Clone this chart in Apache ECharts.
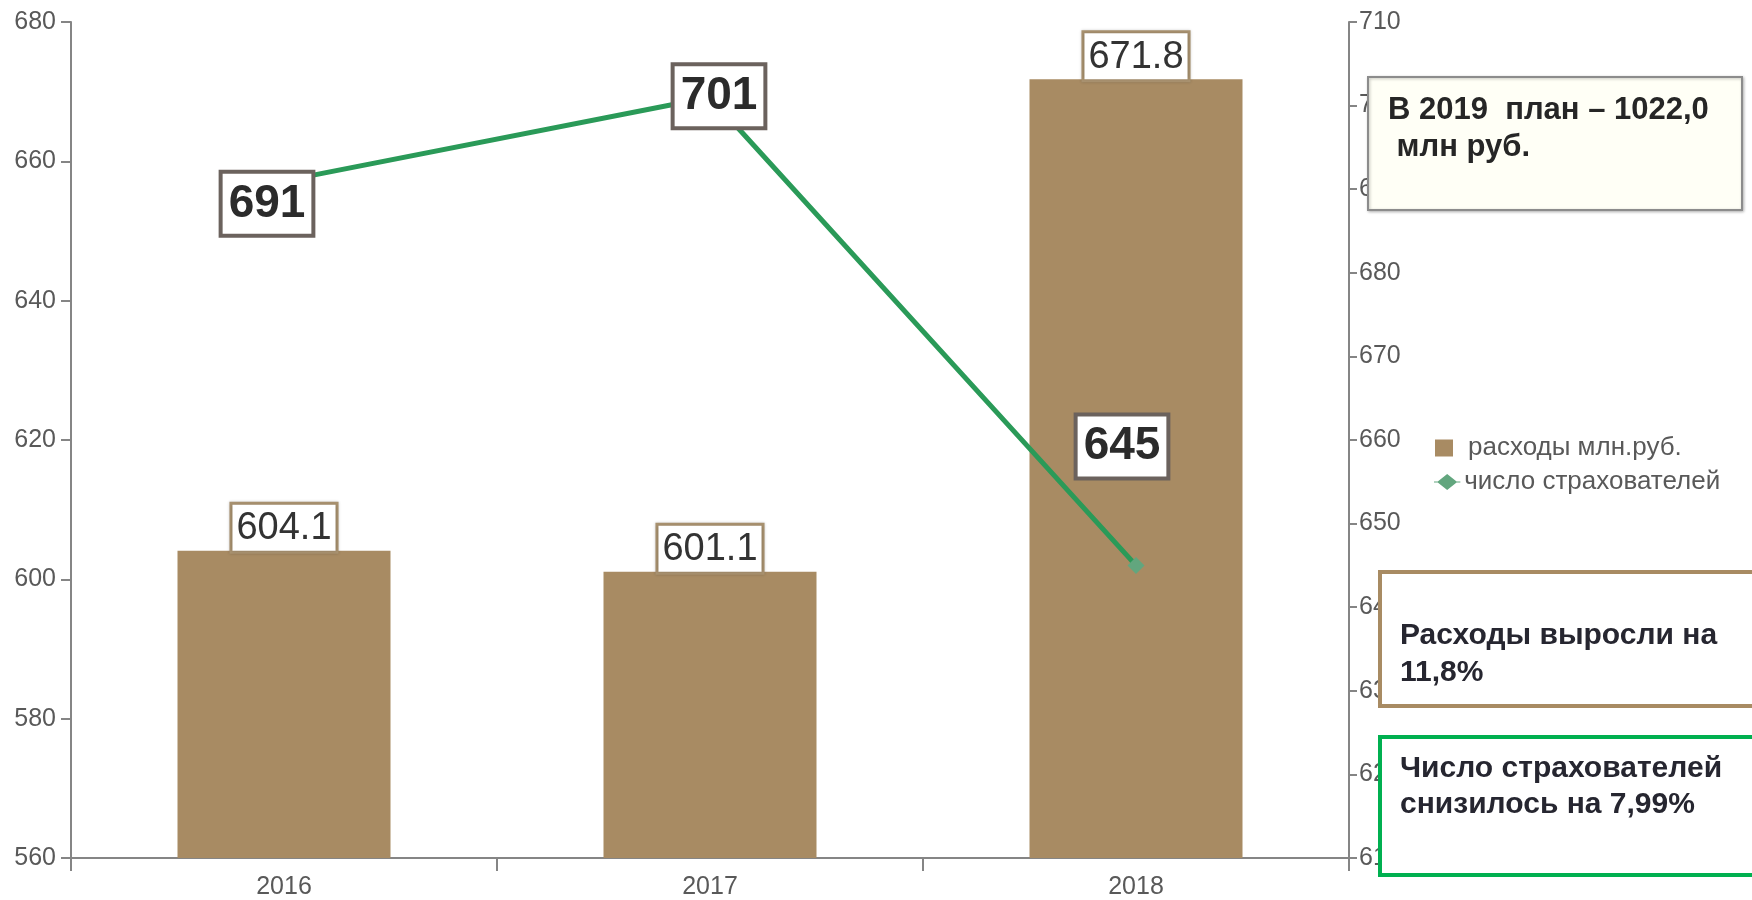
<!DOCTYPE html>
<html>
<head>
<meta charset="utf-8">
<script src="https://cdn.jsdelivr.net/npm/echarts@6/dist/echarts.min.js"></script>
<style>
html,body{margin:0;padding:0;background:#fff;}
#chart{width:1752px;height:900px;}
</style>
</head>
<body>
<div id="chart"></div>
<script>
const categories = ['2016', '2017', '2018'];
const expenses = [604.1, 601.1, 671.8];
const insurers = [691, 701, 645];
const expensesName = 'расходы млн.руб.';
const insurersName = 'число страхователей';
const leftAxis = { min: 560, max: 680, interval: 20 };
const rightAxis = { min: 610, max: 710, interval: 10 };
const insurerLabelOffsets = [[-17, 23], [9, -1], [-14, -119]];
const noteText1 = ['В 2019  план – 1022,0', ' млн руб.'];
const noteText2 = ['Расходы выросли на', '11,8%'];
const noteText3 = ['Число страхователей', 'снизилось на 7,99%'];

const font = 'Liberation Sans, Arial, sans-serif';
const chart = echarts.init(document.getElementById('chart'));

const lineCol = '#858585';

chart.setOption({
  backgroundColor: '#ffffff',
  animation: false,
  grid: { left: 71, right: 403, top: 22, bottom: 42 },
  legend: [
    {
      data: [{ name: expensesName, icon: 'rect' }],
      left: 1435, top: 435, padding: 0,
      itemWidth: 18, itemHeight: 17,
      textStyle: { color: '#595959', fontSize: 26, fontFamily: font, padding: [0, 0, 0, 10] }
    },
    {
      data: [{ name: insurersName, icon: 'path://M0,8 L4,8 L14,0 L24,8 L28,8 L28,9 L24,9 L14,17 L4,9 L0,9 Z' }],
      left: 1434, top: 469, padding: 0,
      itemWidth: 28, itemHeight: 16,
      textStyle: { color: '#595959', fontSize: 26, fontFamily: font, padding: [0, 0, 0, -2] }
    }
  ],
  xAxis: {
    type: 'category',
    data: categories,
    axisLine: { show: true, lineStyle: { color: lineCol, width: 2 } },
    axisTick: { show: true, length: 13, alignWithLabel: false, lineStyle: { color: lineCol, width: 2 } },
    axisLabel: { color: '#595959', fontSize: 25, fontFamily: font, margin: 17 }
  },
  yAxis: [
    Object.assign({ type: 'value', position: 'left' }, leftAxis, {
      axisLine: { show: true, lineStyle: { color: lineCol, width: 2 } },
      axisTick: { show: true, length: 10, lineStyle: { color: lineCol, width: 2 } },
      splitLine: { show: false },
      axisLabel: { color: '#595959', fontSize: 25, fontFamily: font, margin: 15 }
    }),
    Object.assign({ type: 'value', position: 'right' }, rightAxis, {
      axisLine: { show: true, lineStyle: { color: lineCol, width: 2 } },
      axisTick: { show: true, length: 8, lineStyle: { color: lineCol, width: 2 } },
      splitLine: { show: false },
      axisLabel: { color: '#595959', fontSize: 25, fontFamily: font, margin: 10 }
    })
  ],
  series: [
    {
      name: expensesName,
      type: 'bar',
      yAxisIndex: 0,
      data: expenses,
      barWidth: '50%',
      itemStyle: { color: '#A88B63' },
      label: {
        show: true,
        position: 'top',
        distance: 0,
        formatter: p => p.value.toFixed(1),
        color: '#333333',
        fontSize: 38,
        fontFamily: font,
        backgroundColor: '#ffffff',
        borderColor: '#A8916F',
        borderWidth: 3,
        padding: [5, 4, 3, 4],
        shadowColor: 'rgba(0,0,0,0.2)', shadowBlur: 3
      },
      z: 2
    },
    {
      name: insurersName,
      type: 'line',
      yAxisIndex: 1,
      data: insurers.map((v, i) => ({
        value: v,
        label: { offset: insurerLabelOffsets[i] }
      })),
      symbol: 'diamond',
      symbolSize: 17,
      showSymbol: true,
      lineStyle: { color: '#2A9A58', width: 5 },
      itemStyle: { color: '#62A67E' },
      label: {
        show: true,
        position: 'inside',
        color: '#2b2b2b',
        fontSize: 46,
        fontWeight: 'bold',
        fontFamily: font,
        backgroundColor: '#ffffff',
        borderColor: '#6B625D',
        borderWidth: 4,
        padding: [8, 6, 6, 6]
      },
      z: 5
    }
  ],
  graphic: [
    {
      type: 'rect', z: 100,
      shape: { x: 1368, y: 77, width: 374, height: 133 },
      style: { fill: '#FFFFF6', stroke: '#8c8c8c', lineWidth: 2, shadowBlur: 3, shadowColor: 'rgba(0,0,0,0.25)', shadowOffsetX: 1, shadowOffsetY: 1 }
    },
    {
      type: 'text', z: 101, left: 1388, top: 92,
      style: { text: noteText1.join('\n'), fill: '#262626', font: 'bold 31px ' + font, lineHeight: 37 }
    },
    {
      type: 'rect', z: 100,
      shape: { x: 1380, y: 572, width: 380, height: 134 },
      style: { fill: '#ffffff', stroke: '#A88B63', lineWidth: 4 }
    },
    {
      type: 'text', z: 101, left: 1400, top: 617,
      style: { text: noteText2.join('\n'), fill: '#262630', font: 'bold 30px ' + font, lineHeight: 37 }
    },
    {
      type: 'rect', z: 100,
      shape: { x: 1380, y: 737, width: 380, height: 138 },
      style: { fill: '#ffffff', stroke: '#00B050', lineWidth: 4 }
    },
    {
      type: 'text', z: 101, left: 1400, top: 751,
      style: { text: noteText3.join('\n'), fill: '#262630', font: 'bold 30px ' + font, lineHeight: 36 }
    }
  ]
});
</script>
</body>
</html>
